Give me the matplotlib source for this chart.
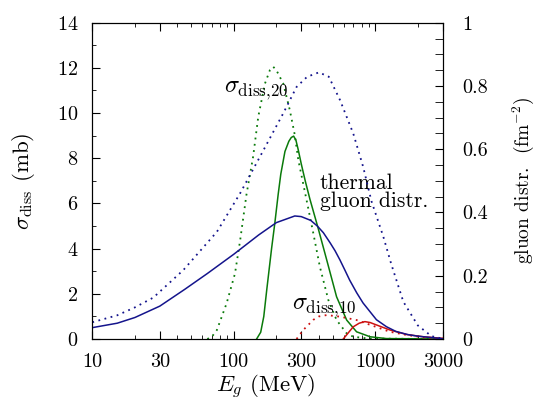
import numpy as np
from matplotlib import pyplot as plt
from matplotlib.ticker import FixedLocator, FixedFormatter, MultipleLocator

plt.rcParams.update({'font.size': 14.5,
                     'font.family': 'serif',
                     'font.serif': ['cmr10', 'DejaVu Serif'],
                     'mathtext.fontset': 'cm',
                     'axes.formatter.use_mathtext': True})

"""
Data read off the figure
"""
# thermal gluon distributions (fm^-2), right axis
e_glu = [10, 15, 20, 30, 45, 65, 100, 150, 200, 270, 300, 350, 390, 430, 480, 520, 563, 610,
         660, 740, 820, 920, 1020, 1200, 1400, 1700, 2000, 3000]
glu_solid = [0.036, 0.050, 0.068, 0.104, 0.157, 0.207, 0.268, 0.329, 0.368, 0.389, 0.387,
             0.375, 0.357, 0.336, 0.304, 0.279, 0.250, 0.218, 0.186, 0.146, 0.114, 0.086,
             0.061, 0.039, 0.024, 0.014, 0.009, 0.001]

e_glu2 = [10, 15, 20, 27, 44, 76, 111, 153, 224, 278, 330, 400, 470, 563, 699, 822, 940,
          1140, 1300, 1580, 2000, 2500, 3000]
glu_dot = [0.053, 0.075, 0.100, 0.131, 0.218, 0.339, 0.461, 0.576, 0.714, 0.797, 0.829, 0.843,
           0.829, 0.756, 0.650, 0.544, 0.436, 0.324, 0.236, 0.118, 0.043, 0.009, 0.001]

# dissociation cross sections (mb), left axis
e_g20 = [145, 155, 163, 171, 185, 195, 206, 215, 230, 245, 255, 265, 275, 285, 300, 320, 345,
         395, 454, 533, 628, 738, 920, 1200, 3000]
sig_g20 = [0, 0.3, 1.0, 2.17, 4.0, 5.12, 6.4, 7.3, 8.3, 8.75, 8.92, 8.98, 8.8, 8.4, 7.75, 7.0,
           6.2, 4.9, 3.5, 1.87, 0.84, 0.32, 0.1, 0.02, 0]

e_g20d = [65, 70, 76, 89, 102, 111, 123, 137, 149, 166, 180, 190, 200, 224, 249, 270, 286, 327,
          365, 406, 466, 533, 628, 700, 900, 3000]
sig_g20d = [0, 0.1, 0.4, 1.58, 2.9, 4.38, 6.4, 8.07, 9.84, 11.3, 11.9, 12.05, 11.9, 11.3, 10.13,
            9.03, 7.92, 6.15, 4.68, 3.2, 1.73, 0.84, 0.25, 0.1, 0.02, 0]

e_r10 = [594, 650, 699, 770, 845, 920, 1023, 1270, 1667, 2183, 3000]
sig_r10 = [0, 0.3, 0.54, 0.7, 0.77, 0.73, 0.62, 0.4, 0.2, 0.1, 0.03]

e_r10d = [278, 310, 365, 400, 454, 563, 738, 968, 1270, 1667, 2183, 3000]
sig_r10d = [0, 0.4, 0.85, 1.0, 1.06, 0.99, 0.84, 0.58, 0.32, 0.18, 0.07, 0.02]

xticks = [10, 30, 100, 300, 1000, 3000]
xlabels = ['10', '30', '100', '300', '1000', '3000']

blue = '#14148c'
green = '#0a7a0a'
red = '#cc1010'
dots = (0, (1, 2.5))

"""
Plotting
"""
fig = plt.figure(figsize=(5.38, 4.09), dpi=100)
ax = fig.add_axes([0.1716, 0.1711, 0.6513, 0.7734])
ax2 = ax.twinx()

ax.plot(e_g20, sig_g20, '-', color=green, lw=1.1)
ax.plot(e_g20d, sig_g20d, linestyle=dots, color=green, lw=1.3)
ax.plot(e_r10, sig_r10, '-', color=red, lw=1.1)
ax.plot(e_r10d, sig_r10d, linestyle=dots, color=red, lw=1.3)
ax2.plot(e_glu, glu_solid, '-', color=blue, lw=1.1)
ax2.plot(e_glu2, glu_dot, linestyle=dots, color=blue, lw=1.3)

ax.set_xscale('log')
ax.set_xlim(10, 3000)
ax.set_ylim(0, 14)
ax2.set_ylim(0, 1)

ax.xaxis.set_major_locator(FixedLocator(xticks))
ax.xaxis.set_major_formatter(FixedFormatter(xlabels))
minors = [m * 10**k for k in range(1, 4) for m in range(2, 10) if m * 10**k < 3000]
minors = [v for v in minors if v not in xticks]
ax.xaxis.set_minor_locator(FixedLocator(minors))
ax.xaxis.set_minor_formatter(FixedFormatter([''] * len(minors)))
ax.yaxis.set_major_locator(MultipleLocator(2))
ax.yaxis.set_minor_locator(MultipleLocator(1))
ax2.yaxis.set_major_locator(MultipleLocator(0.2))
ax2.yaxis.set_minor_locator(MultipleLocator(0.05))
ax2.set_yticks([0, 0.2, 0.4, 0.6, 0.8, 1.0])
ax2.set_yticklabels(['0', '0.2', '0.4', '0.6', '0.8', '1'])

ax.tick_params(which='both', direction='in', top=True, bottom=True, left=True, right=False)
ax.tick_params(which='major', length=6)
ax.tick_params(axis='x', which='major', pad=10)
ax.tick_params(axis='y', which='major', pad=10)
ax.tick_params(which='minor', length=3)
ax2.tick_params(which='both', direction='in', right=True, left=False, top=False)
ax2.tick_params(which='major', length=6, pad=14)
ax2.tick_params(which='minor', length=6)

ax.set_xlabel('$E_g$ (MeV)', fontsize=16.5)
ax.set_ylabel(r'$\sigma_{\rm diss}$ (mb)', fontsize=16.5)
ax2.set_ylabel(r'gluon distr.  (fm$^{-2}$)', fontsize=14)
ax.xaxis.set_label_coords(0.496, -0.107)
ax.yaxis.set_label_coords(-0.158, 0.5)
ax2.yaxis.set_label_coords(1.195, 0.5)

ax.text(85, 10.97, r'$\sigma_{\rm diss{,}20}$', va='center', ha='left', fontsize=17.5)
ax.text(258, 1.37, r'$\sigma_{\rm diss{,}10}$', va='center', ha='left', fontsize=17.5)
ax.text(406, 6.5, 'thermal\ngluon distr.', va='center', ha='left', fontsize=15.5,
        linespacing=0.85)

fig.savefig('out.png', dpi=100)
